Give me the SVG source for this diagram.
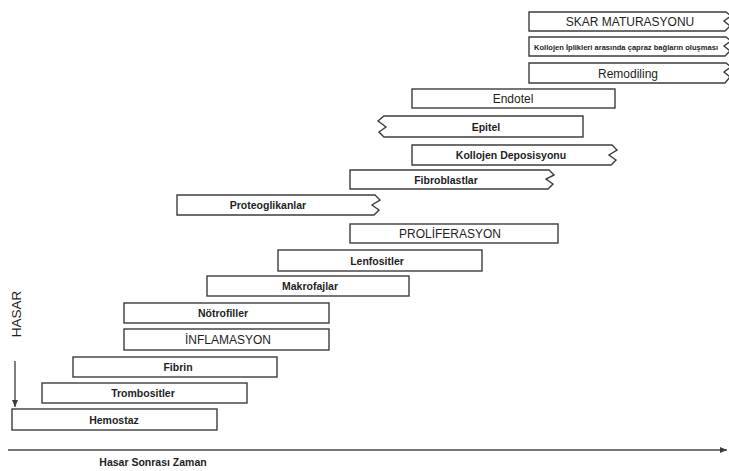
<svg xmlns="http://www.w3.org/2000/svg" width="729" height="471" viewBox="0 0 729 471">
<style>
.box{fill:#fff;stroke:#3c3c3c;stroke-width:1.4;stroke-linejoin:miter}
.t{font-family:"Liberation Sans",Arial,sans-serif;fill:#1e1e1e;text-anchor:middle}
.b{font-weight:bold;font-size:10.5px}
.r{font-weight:normal;font-size:12px}
.axis{stroke:#4a4a4a;stroke-width:1.4;fill:none}
</style>
<defs>
<marker id="ah" markerWidth="8" markerHeight="8" refX="7" refY="4" orient="auto" markerUnits="userSpaceOnUse">
<path d="M0,1 L7,4 L0,7 Z" fill="#3c3c3c"/>
</marker>
</defs>
<rect width="729" height="471" fill="#fff"/>

<g id="skar">
<path class="box" d="M529,12 H726 L731,16 L724,21 L730,26 L725,31 H529 Z"/>
<text class="t r" x="630" y="26" font-size="11.6">SKAR MATURASYONU</text>
</g>
<g id="kollojen-iplikleri">
<path class="box" d="M529,37 H726 L731,41 L724,46 L730,51 L725,56 H529 Z"/>
<text class="t" x="626" y="50" font-size="7" font-weight="bold" textLength="184" lengthAdjust="spacingAndGlyphs">Kollojen İplikleri arasında çapraz bağların oluşması</text>
</g>
<g id="remodiling">
<path class="box" d="M529,63 H726 L731,67 L724,72 L730,77 L725,83 H529 Z"/>
<text class="t r" x="628" y="78">Remodiling</text>
</g>
<g id="endotel">
<rect class="box" x="412" y="89" width="203" height="19"/>
<text class="t r" x="513" y="103" font-size="12.5">Endotel</text>
</g>
<g id="epitel">
<path class="box" d="M384,116 H583 V137 H384 L379,132 L386,127 L378,121 Z"/>
<text class="t b" x="486" y="131" font-size="11">Epitel</text>
</g>
<g id="kollojen-deposisyonu">
<path class="box" d="M412,145 H612 L617,150 L609,155 L616,160 L611,165 H412 Z"/>
<text class="t b" x="511" y="159">Kollojen Deposisyonu</text>
</g>
<g id="fibroblastlar">
<path class="box" d="M350,170 H549 L554,175 L546,179 L553,184 L548,189 H350 Z"/>
<text class="t b" x="446" y="184">Fibroblastlar</text>
</g>
<g id="proteoglikanlar">
<path class="box" d="M177,195 H375 L380,200 L372,205 L379,210 L374,215 H177 Z"/>
<text class="t b" x="268" y="209">Proteoglikanlar</text>
</g>
<g id="proliferasyon">
<rect class="box" x="350" y="224" width="208" height="19"/>
<text class="t r" x="450" y="238">PROLİFERASYON</text>
</g>
<g id="lenfositler">
<rect class="box" x="278" y="250" width="204" height="21"/>
<text class="t b" x="377" y="265">Lenfositler</text>
</g>
<g id="makrofajlar">
<rect class="box" x="207" y="276" width="202" height="20"/>
<text class="t b" x="310" y="290">Makrofajlar</text>
</g>
<g id="notrofiller">
<rect class="box" x="124" y="303" width="205" height="20"/>
<text class="t b" x="223" y="317">Nötrofiller</text>
</g>
<g id="inflamasyon">
<rect class="box" x="124" y="329" width="205" height="21"/>
<text class="t r" x="228" y="344" font-size="11.6">İNFLAMASYON</text>
</g>
<g id="fibrin">
<rect class="box" x="73" y="357" width="204" height="20"/>
<text class="t b" x="178" y="371">Fibrin</text>
</g>
<g id="trombositler">
<rect class="box" x="42" y="383" width="205" height="20"/>
<text class="t b" x="143" y="397">Trombositler</text>
</g>
<g id="hemostaz">
<rect class="box" x="12" y="409" width="205" height="21"/>
<text class="t b" x="114" y="424" font-size="11">Hemostaz</text>
</g>

<g id="connectors">
<line class="axis" x1="8" y1="450" x2="727" y2="450" marker-end="url(#ah)"/>
<line class="axis" x1="15" y1="361" x2="15" y2="407" stroke-width="1" marker-end="url(#ah)"/>
</g>

<g id="labels">
<text class="t" x="21" y="314" font-size="13.5" transform="rotate(-90 21 314)" dy="0">HASAR</text>
<text class="t b" x="153" y="466" font-size="10.6">Hasar Sonrası Zaman</text>
</g>
</svg>
